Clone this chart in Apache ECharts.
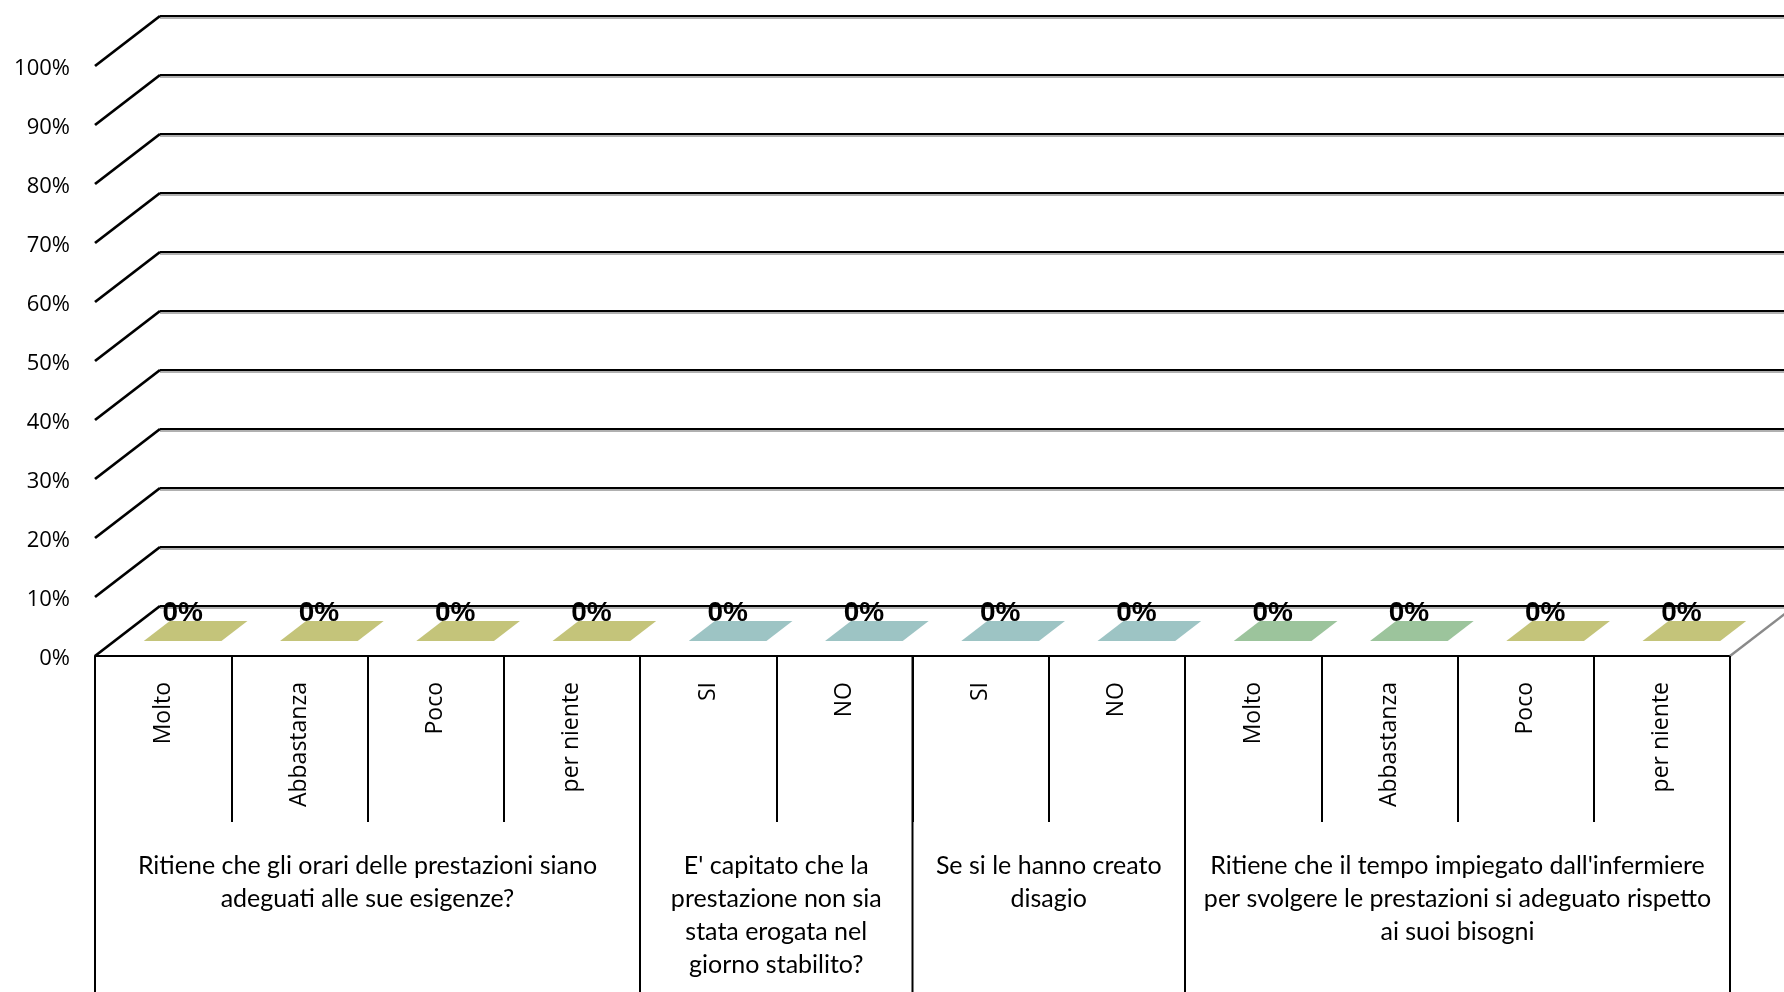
<!DOCTYPE html>
<html>
<head>
<meta charset="utf-8">
<script src="https://cdn.jsdelivr.net/npm/echarts@6/dist/echarts.min.js"></script>
<style>
html,body{margin:0;padding:0;background:#fff;}
#chart{width:1784px;height:992px;}
</style>
</head>
<body>
<div id="chart"></div>
<script>
// ---- data ----
const categories = ['Molto','Abbastanza','Poco','per niente','SI','NO','SI','NO','Molto','Abbastanza','Poco','per niente'];
const values = [0,0,0,0,0,0,0,0,0,0,0,0];
const groupLabels = [
  'Ritiene che gli orari delle prestazioni siano\nadeguati alle sue esigenze?',
  "E' capitato che la\nprestazione non sia\nstata erogata nel\ngiorno stabilito?",
  'Se si le hanno creato\ndisagio',
  "Ritiene che il tempo impiegato dall'infermiere\nper svolgere le prestazioni si adeguato rispetto\nai suoi bisogni"
];
const groupSizes = [4,2,2,4];
const yTicks = [0,10,20,30,40,50,60,70,80,90,100];

// ---- style ----
const barColors = ['#C4C47A','#C4C47A','#C4C47A','#C4C47A','#9DC4C4','#9DC4C4','#9DC4C4','#9DC4C4','#9CC49C','#9CC49C','#C4C47A','#C4C47A'];
const DX = 65, DY = -50;      // depth vector of the 3D floor
const F0 = 0.3, F1 = 0.7;     // bar depth range
const BAR_W = 0.57;

const chart = echarts.init(document.getElementById('chart'), null, {renderer:'canvas'});

const option = {
  animation: false,
  backgroundColor: '#fff',
  grid: [
    {left: 95, top: 66, width: 1635, height: 590},
    {left: 160, top: 16, width: 1635, height: 590}
  ],
  xAxis: [
    {
      type: 'category', gridIndex: 0, data: categories,
      axisLine: {show: true, lineStyle: {color: '#000', width: 2}},
      axisTick: {show: true, interval: 0, length: 166, lineStyle: {color: '#000', width: 2}},
      axisLabel: {show: true, interval: 0, rotate: 90, margin: 26, fontFamily: 'Open Sans', fontSize: 23, color: '#000'},
      splitLine: {show: false}
    },
    {
      type: 'category', gridIndex: 1, data: categories, show: false
    }
  ],
  yAxis: [
    {
      type: 'value', gridIndex: 0, min: 0, max: 100, interval: 10,
      axisLine: {show: false}, axisTick: {show: false}, splitLine: {show: false},
      axisLabel: {
        formatter: function (v) { return '{p|' + v + '%}'; },
        margin: 25,
        rich: {p: {fontFamily: 'Open Sans', fontSize: 22, color: '#000', padding: [6, 0, 0, 0]}}
      }
    },
    {
      type: 'value', gridIndex: 1, min: 0, max: 100, interval: 10,
      axisLine: {show: false}, axisTick: {show: false}, axisLabel: {show: false},
      splitLine: {show: true, lineStyle: {color: '#000', width: 2, shadowColor: '#b0b0b0', shadowOffsetY: 2, shadowBlur: 0}}
    }
  ],
  series: [
    // diagonal edges on the left wall at every tick + floor right edge
    {
      type: 'custom', xAxisIndex: 0, yAxisIndex: 0, clip: false, z: 5,
      data: yTicks.map(v => [0, v]),
      renderItem: function (params, api) {
        const v = api.value(1);
        const cs = params.coordSys;
        const y = api.coord([0, v])[1];
        const children = [{
          type: 'line',
          shape: {x1: cs.x, y1: y, x2: cs.x + DX, y2: y + DY},
          style: {stroke: '#000', lineWidth: 2.8}
        }];
        if (v === 0) {
          children.push({
            type: 'line',
            shape: {x1: cs.x + cs.width, y1: y, x2: cs.x + cs.width + DX, y2: y + DY},
            style: {stroke: '#8a8a8a', lineWidth: 2.5}
          });
        }
        return {type: 'group', children: children};
      }
    },
    // 3D bars (top face + front face) with labels
    {
      type: 'custom', xAxisIndex: 0, yAxisIndex: 0, clip: false, z: 10,
      data: values.map((v, i) => [i, v]),
      renderItem: function (params, api) {
        const i = api.value(0), v = api.value(1);
        const top = api.coord([i, v]);
        const base = api.coord([i, 0]);
        const bw = api.size([1, 0])[0] * BAR_W;
        const cx = top[0];
        const color = barColors[i];
        const children = [];
        if (base[1] - top[1] > 0.5) {
          children.push({
            type: 'rect',
            shape: {x: cx - bw / 2 + F0 * DX, y: top[1] + F0 * DY, width: bw, height: base[1] - top[1]},
            style: {fill: color}
          });
        }
        children.push({
          type: 'polygon',
          shape: {points: [
            [cx - bw / 2 + F0 * DX, top[1] + F0 * DY],
            [cx + bw / 2 + F0 * DX, top[1] + F0 * DY],
            [cx + bw / 2 + F1 * DX, top[1] + F1 * DY],
            [cx - bw / 2 + F1 * DX, top[1] + F1 * DY]
          ]},
          style: {fill: color}
        });
        children.push({
          type: 'text',
          style: {
            text: Math.round(v) + '%',
            x: cx + F0 * DX,
            y: top[1] + 0.9 * DY + 2,
            textAlign: 'center', textVerticalAlign: 'middle',
            fontFamily: 'Liberation Sans', fontWeight: 'bold', fontSize: 28, fill: '#000'
          }
        });
        return {type: 'group', children: children};
      }
    },
    // group dividers and group labels
    {
      type: 'custom', xAxisIndex: 0, yAxisIndex: 0, clip: false, z: 6,
      data: groupSizes.map((s, g) => [g, s]),
      renderItem: function (params, api) {
        const g = api.value(0);
        const cs = params.coordSys;
        const bw = api.size([1, 0])[0];
        let start = 0;
        for (let k = 0; k < g; k++) start += groupSizes[k];
        const size = groupSizes[g];
        const x0 = api.coord([start, 0])[0] - bw / 2;
        const x1 = x0 + size * bw;
        const y0 = cs.y + cs.height;
        const yEnd = api.getHeight();
        const children = [{
          type: 'line', shape: {x1: x0, y1: y0, x2: x0, y2: yEnd},
          style: {stroke: '#000', lineWidth: 2}
        }];
        if (g === groupSizes.length - 1) {
          children.push({
            type: 'line', shape: {x1: x1, y1: y0, x2: x1, y2: yEnd},
            style: {stroke: '#000', lineWidth: 2}
          });
        }
        children.push({
          type: 'text',
          style: {
            text: groupLabels[g], x: (x0 + x1) / 2, y: y0 + 193,
            textAlign: 'center', textVerticalAlign: 'top',
            fontFamily: 'Lato', fontSize: 25, lineHeight: 33, fill: '#000'
          }
        });
        return {type: 'group', children: children};
      }
    }
  ]
};
chart.setOption(option);
</script>
</body>
</html>
